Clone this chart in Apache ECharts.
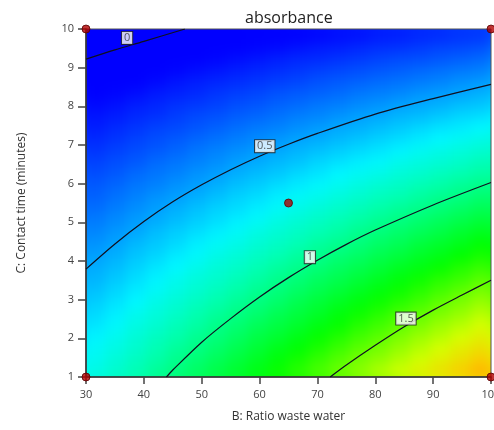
<!DOCTYPE html>
<html>
<head>
<meta charset="utf-8">
<script src="https://cdn.jsdelivr.net/npm/echarts@6/dist/echarts.min.js"></script>
<style>
html, body { margin: 0; padding: 0; background: #fff; }
#wrap { position: relative; width: 494px; height: 430px; overflow: hidden; }
#heatClip { position: absolute; left: 86px; top: 29px; width: 405px; height: 348px; overflow: hidden; }
#heat { position: absolute; left: -30px; top: -30px; width: 465px; height: 408px; filter: blur(6px); }
#chart { position: absolute; left: 0; top: 0; width: 494px; height: 430px; }
</style>
</head>
<body>
<div id="wrap">
  <div id="heatClip"><div id="heat"></div></div>
  <div id="chart"></div>
</div>
<script>
// heatmap cell centres (B: ratio, C: time)
const ratioCells = [31.75, 35.25, 38.75, 42.25, 45.75, 49.25, 52.75, 56.25, 59.75, 63.25,
                    66.75, 70.25, 73.75, 77.25, 80.75, 84.25, 87.75, 91.25, 94.75, 98.25];
const timeCells = [1.15, 1.45, 1.75, 2.05, 2.35, 2.65, 2.95, 3.25, 3.55, 3.85,
                   4.15, 4.45, 4.75, 5.05, 5.35, 5.65, 5.95, 6.25, 6.55, 6.85,
                   7.15, 7.45, 7.75, 8.05, 8.35, 8.65, 8.95, 9.25, 9.55, 9.85];

// estimated absorbance, one row per time cell (bottom row first)
const absorbance = [
  [0.77,0.83,0.89,0.96,1.02,1.08,1.14,1.20,1.26,1.32,1.38,1.44,1.50,1.56,1.63,1.69,1.75,1.81,1.87,1.93],
  [0.74,0.80,0.86,0.92,0.98,1.04,1.10,1.16,1.22,1.28,1.34,1.40,1.46,1.52,1.57,1.63,1.69,1.75,1.81,1.87],
  [0.72,0.77,0.83,0.89,0.95,1.00,1.06,1.12,1.18,1.24,1.29,1.35,1.41,1.47,1.52,1.58,1.64,1.70,1.76,1.81],
  [0.69,0.74,0.80,0.86,0.91,0.97,1.02,1.08,1.14,1.19,1.25,1.31,1.36,1.42,1.47,1.53,1.59,1.64,1.70,1.75],
  [0.66,0.71,0.77,0.82,0.88,0.93,0.99,1.04,1.10,1.15,1.20,1.26,1.31,1.37,1.42,1.48,1.53,1.59,1.64,1.70],
  [0.63,0.68,0.74,0.79,0.84,0.90,0.95,1.00,1.05,1.11,1.16,1.21,1.27,1.32,1.37,1.43,1.48,1.53,1.58,1.64],
  [0.60,0.65,0.70,0.76,0.81,0.86,0.91,0.96,1.01,1.06,1.12,1.17,1.22,1.27,1.32,1.37,1.42,1.48,1.53,1.58],
  [0.57,0.62,0.67,0.72,0.77,0.82,0.87,0.92,0.97,1.02,1.07,1.12,1.17,1.22,1.27,1.32,1.37,1.42,1.47,1.52],
  [0.54,0.59,0.64,0.69,0.74,0.79,0.83,0.88,0.93,0.98,1.03,1.08,1.12,1.17,1.22,1.27,1.32,1.37,1.41,1.46],
  [0.52,0.56,0.61,0.66,0.70,0.75,0.80,0.84,0.89,0.94,0.98,1.03,1.08,1.12,1.17,1.22,1.26,1.31,1.36,1.40],
  [0.49,0.53,0.58,0.62,0.67,0.71,0.76,0.80,0.85,0.89,0.94,0.98,1.03,1.07,1.12,1.16,1.21,1.25,1.30,1.34],
  [0.46,0.50,0.55,0.59,0.63,0.68,0.72,0.76,0.81,0.85,0.89,0.94,0.98,1.02,1.07,1.11,1.16,1.20,1.24,1.29],
  [0.43,0.47,0.51,0.56,0.60,0.64,0.68,0.72,0.77,0.81,0.85,0.89,0.93,0.98,1.02,1.06,1.10,1.14,1.19,1.23],
  [0.40,0.44,0.48,0.52,0.56,0.60,0.64,0.68,0.72,0.77,0.81,0.85,0.89,0.93,0.97,1.01,1.05,1.09,1.13,1.17],
  [0.37,0.41,0.45,0.49,0.53,0.57,0.61,0.64,0.68,0.72,0.76,0.80,0.84,0.88,0.92,0.96,0.99,1.03,1.07,1.11],
  [0.34,0.38,0.42,0.46,0.49,0.53,0.57,0.61,0.64,0.68,0.72,0.75,0.79,0.83,0.87,0.90,0.94,0.98,1.01,1.05],
  [0.32,0.35,0.39,0.42,0.46,0.49,0.53,0.57,0.60,0.64,0.67,0.71,0.74,0.78,0.82,0.85,0.89,0.92,0.96,0.99],
  [0.29,0.32,0.36,0.39,0.42,0.46,0.49,0.53,0.56,0.59,0.63,0.66,0.70,0.73,0.76,0.80,0.83,0.87,0.90,0.93],
  [0.26,0.29,0.32,0.36,0.39,0.42,0.45,0.49,0.52,0.55,0.58,0.62,0.65,0.68,0.71,0.75,0.78,0.81,0.84,0.88],
  [0.23,0.26,0.29,0.32,0.35,0.39,0.42,0.45,0.48,0.51,0.54,0.57,0.60,0.63,0.66,0.69,0.73,0.76,0.79,0.82],
  [0.20,0.23,0.26,0.29,0.32,0.35,0.38,0.41,0.44,0.47,0.50,0.52,0.55,0.58,0.61,0.64,0.67,0.70,0.73,0.76],
  [0.17,0.20,0.23,0.26,0.28,0.31,0.34,0.37,0.40,0.42,0.45,0.48,0.51,0.53,0.56,0.59,0.62,0.65,0.67,0.70],
  [0.15,0.17,0.20,0.22,0.25,0.28,0.30,0.33,0.35,0.38,0.41,0.43,0.46,0.49,0.51,0.54,0.56,0.59,0.62,0.64],
  [0.12,0.14,0.17,0.19,0.22,0.24,0.26,0.29,0.31,0.34,0.36,0.39,0.41,0.44,0.46,0.49,0.51,0.53,0.56,0.58],
  [0.09,0.11,0.13,0.16,0.18,0.20,0.23,0.25,0.27,0.30,0.32,0.34,0.36,0.39,0.41,0.43,0.46,0.48,0.50,0.53],
  [0.06,0.08,0.10,0.12,0.15,0.17,0.19,0.21,0.23,0.25,0.27,0.30,0.32,0.34,0.36,0.38,0.40,0.42,0.45,0.47],
  [0.03,0.05,0.07,0.09,0.11,0.13,0.15,0.17,0.19,0.21,0.23,0.25,0.27,0.29,0.31,0.33,0.35,0.37,0.39,0.41],
  [0.00,0.02,0.04,0.06,0.08,0.09,0.11,0.13,0.15,0.17,0.19,0.20,0.22,0.24,0.26,0.28,0.29,0.31,0.33,0.35],
  [-0.03,-0.01,0.01,0.02,0.04,0.06,0.07,0.09,0.11,0.12,0.14,0.16,0.17,0.19,0.21,0.22,0.24,0.26,0.27,0.29],
  [-0.05,-0.04,-0.02,-0.01,0.01,0.02,0.04,0.05,0.07,0.08,0.10,0.11,0.13,0.14,0.16,0.17,0.19,0.20,0.22,0.23]
];

// colour ramp, evenly spaced from 0.1 to 2.3
const rampColors = ['#0000ff', '#0052ff', '#00a4ff', '#00f7ff', '#00ffb0', '#00ff58',
                    '#00ff00', '#6aff00', '#d5ff00', '#ffc400', '#ff6200', '#ff0000'];

// contour lines: [ratio, time]
const contour0 = [[30, 9.22], [35, 9.46], [40, 9.68], [47.1, 10]];
const contour05 = [[30, 3.79], [35, 4.44], [40, 5.02], [45, 5.53], [50, 5.97], [55, 6.36], [60, 6.71],
                   [65, 7.02], [70, 7.3], [80, 7.8], [90, 8.2], [100, 8.57]];
const contour1 = [[43.9, 1], [45, 1.18], [50, 1.9], [55, 2.51], [60, 3.07], [65, 3.57], [70, 4.02],
                  [75, 4.43], [80, 4.8], [90, 5.45], [100, 6.03]];
const contour15 = [[72.2, 1], [75, 1.31], [80, 1.82], [85, 2.3], [90, 2.73], [95, 3.12], [100, 3.5]];

// label positions and texts
const contourLabels = [[37.1, 9.77, '0'], [60.9, 6.97, '0.5'], [68.7, 4.1, '1'], [85.3, 2.51, '1.5']];

// design points
const designPoints = [[30, 1], [30, 10], [100, 1], [100, 10], [65, 5.5]];

const heatData = [];
absorbance.forEach((row, j) => {
    row.forEach((v, i) => heatData.push([i, j, v]));
});

const font = 'Open Sans, DejaVu Sans, sans-serif';

// colour layer: an oversized copy under the exact one, so the blur has no white edge
const heat = echarts.init(document.getElementById('heat'), null, { renderer: 'canvas' });
const hiddenCat = (data, gridIndex) => ({
    type: 'category', data: data, gridIndex: gridIndex, show: false
});
heat.setOption({
    animation: false,
    grid: [
        { left: 10, right: 10, top: 10, bottom: 10, outerBoundsMode: 'none' },
        { left: 30, right: 30, top: 30, bottom: 30, outerBoundsMode: 'none' }
    ],
    xAxis: [hiddenCat(ratioCells, 0), hiddenCat(ratioCells, 1)],
    yAxis: [hiddenCat(timeCells, 0), hiddenCat(timeCells, 1)],
    visualMap: {
        show: false,
        type: 'continuous',
        min: 0.1,
        max: 2.3,
        inRange: { color: rampColors }
    },
    series: [0, 1].map(g => ({
        type: 'heatmap',
        xAxisIndex: g,
        yAxisIndex: g,
        data: heatData,
        silent: true,
        z: g + 1
    }))
});

const chart = echarts.init(document.getElementById('chart'), null, { renderer: 'canvas' });

function contourSeries(points) {
    return {
        type: 'line',
        data: points,
        smooth: 0.3,
        symbol: 'none',
        lineStyle: { color: '#101020', width: 1.2 },
        z: 4,
        silent: true
    };
}

chart.setOption({
    animation: false,
    backgroundColor: 'transparent',
    title: {
        text: 'absorbance',
        left: 240,
        top: 5,
        textStyle: { fontFamily: font, fontSize: 16, fontWeight: 'normal', color: '#222' }
    },
    grid: {
        left: 86, top: 29, right: 3, bottom: 53,
        outerBoundsMode: 'none',
        show: true,
        borderColor: '#555',
        borderWidth: 1,
        backgroundColor: 'transparent'
    },
    xAxis: {
        type: 'value',
        min: 30,
        max: 100,
        interval: 10,
        name: 'B: Ratio waste water',
        nameLocation: 'middle',
        nameGap: 34,
        nameTextStyle: { fontFamily: font, fontSize: 12, color: '#333' },
        axisLine: { lineStyle: { color: '#333', width: 1.5 } },
        axisTick: { length: 7, lineStyle: { color: '#444', width: 1.5 } },
        axisLabel: { fontFamily: font, fontSize: 11, color: '#444', margin: 12 },
        splitLine: { show: false }
    },
    yAxis: {
        type: 'value',
        min: 1,
        max: 10,
        interval: 1,
        name: 'C: Contact time (minutes)',
        nameLocation: 'middle',
        nameGap: 58,
        nameTextStyle: { fontFamily: font, fontSize: 12, color: '#333' },
        axisLine: { show: true, lineStyle: { color: '#333', width: 1.5 } },
        axisTick: { show: true, length: 8, lineStyle: { color: '#444', width: 1.5 } },
        axisLabel: { fontFamily: font, fontSize: 11, color: '#444', margin: 12 },
        splitLine: { show: false }
    },
    series: [
        contourSeries(contour0),
        contourSeries(contour05),
        contourSeries(contour1),
        contourSeries(contour15),
        {
            type: 'scatter',
            data: contourLabels,
            symbolSize: 0,
            z: 6,
            silent: true,
            label: {
                show: true,
                position: 'inside',
                formatter: p => p.value[2],
                fontFamily: font,
                fontSize: 11,
                color: '#333',
                backgroundColor: '#fff',
                borderColor: '#222',
                borderWidth: 1,
                padding: [1, 2, 0, 2]
            }
        },
        {
            type: 'scatter',
            data: designPoints,
            symbolSize: 8,
            clip: false,
            z: 8,
            itemStyle: { color: '#b00000', borderColor: '#5a0000', borderWidth: 1 }
        }
    ]
});
</script>
</body>
</html>
